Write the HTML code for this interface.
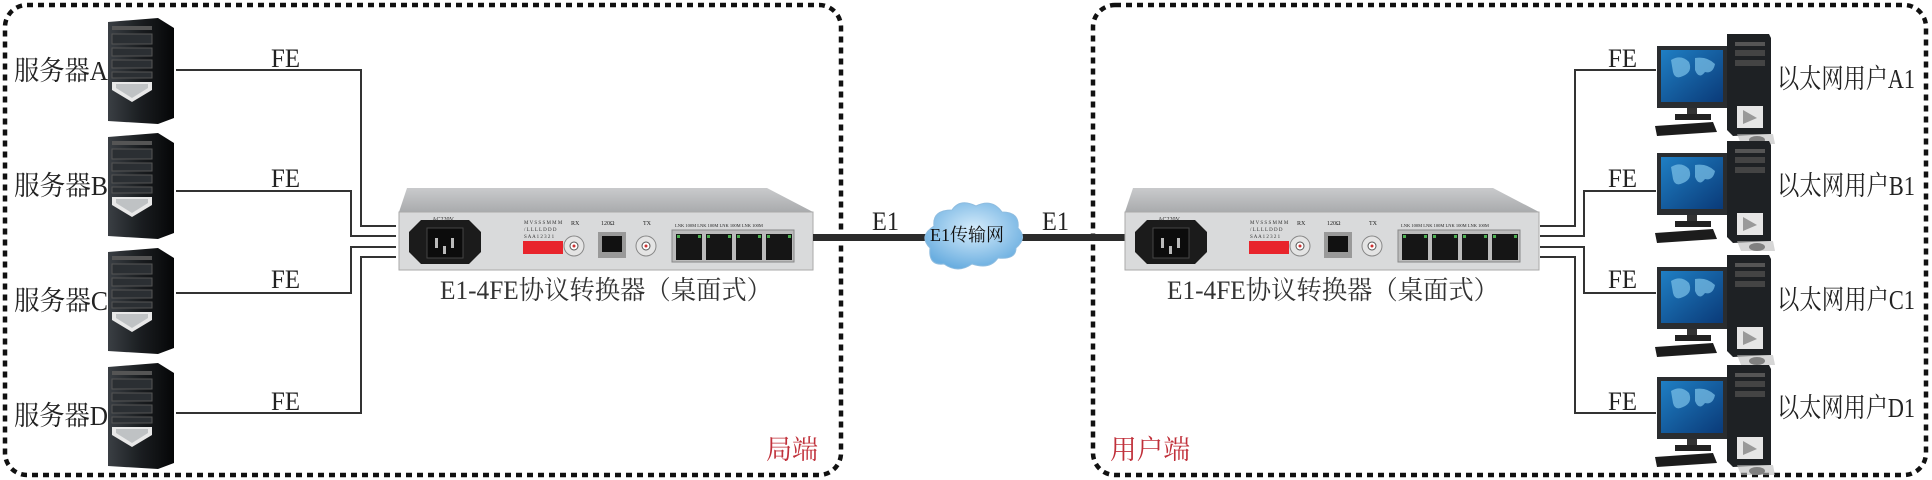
<!DOCTYPE html>
<html><head><meta charset="utf-8"><style>
html,body{margin:0;padding:0;background:#fff;}
svg{display:block;}
text{font-family:"Liberation Serif","Noto Serif CJK SC",serif;}
</style></head><body>
<svg width="1932" height="480" viewBox="0 0 1932 480" xmlns="http://www.w3.org/2000/svg">
<defs>
<linearGradient id="tw" x1="0" x2="1"><stop offset="0" stop-color="#3a3f44"/><stop offset="0.5" stop-color="#1a1d20"/><stop offset="1" stop-color="#050607"/></linearGradient>
<linearGradient id="top" x1="0" y1="0" x2="0" y2="1"><stop offset="0" stop-color="#c9cacc"/><stop offset="1" stop-color="#a9abad"/></linearGradient>
<linearGradient id="scr" x1="0" y1="0" x2="1" y2="1"><stop offset="0" stop-color="#1f7fc4"/><stop offset="1" stop-color="#0a3a78"/></linearGradient>
<radialGradient id="cl" cx="0.5" cy="0.4" r="0.6"><stop offset="0" stop-color="#d6ecfb"/><stop offset="1" stop-color="#6aaee0"/></radialGradient>
<g id="tower">
 <path d="M0 4 L50 0 L66 10 L66 100 L50 106 L0 103 Z" fill="url(#tw)"/>
 <rect x="4" y="8" width="40" height="4" fill="#555"/>
 <rect x="4" y="16" width="40" height="10" fill="#2b2f33" stroke="#555"/>
 <rect x="4" y="30" width="40" height="8" fill="#2b2f33" stroke="#555"/>
 <rect x="4" y="42" width="40" height="8" fill="#2b2f33" stroke="#555"/>
 <rect x="4" y="54" width="40" height="6" fill="#2b2f33" stroke="#555"/>
 <path d="M4 64 L44 64 L44 72 L24 84 L4 72 Z" fill="#e8e8e8"/>
 <path d="M8 66 L40 66 L40 70 L24 80 L8 70 Z" fill="#bfc2c4"/>
</g>
<g id="pc">
 <rect x="0" y="12" width="70" height="62" fill="#2a2d30"/>
 <rect x="4" y="16" width="62" height="52" fill="url(#scr)"/>
 <path d="M14 26 q10 -6 18 2 q4 10 -6 14 q-8 4 -10 -4 Z M38 24 q12 -2 20 6 q-2 10 -10 8 q-6 8 -10 -2 Z" fill="#7ec3ea" opacity="0.7"/>
 <rect x="30" y="74" width="10" height="8" fill="#333"/>
 <rect x="18" y="80" width="36" height="6" fill="#222"/>
 <path d="M-2 92 L56 88 L60 98 L0 102 Z" fill="#1c1c1c"/>
 <path d="M70 0 L112 0 L114 4 L114 100 L76 102 L70 96 Z" fill="#1e2124"/>
 <rect x="78" y="8" width="30" height="4" fill="#555"/>
 <rect x="78" y="16" width="30" height="6" fill="#444"/>
 <rect x="78" y="26" width="30" height="6" fill="#444"/>
 <path d="M80 72 L106 72 L106 94 L80 94 Z" fill="#e6e6e6"/>
 <path d="M86 76 L100 84 L86 90 Z" fill="#999"/>
 <ellipse cx="100" cy="106" rx="8" ry="4" fill="#2a2a2a"/>
 <path d="M80 100 L116 100 L118 110 L84 110 Z" fill="#bbb" opacity="0.6"/>
</g>
<g id="dev">
 <path d="M8 0 L368 0 L414 24 L0 24 Z" fill="url(#top)"/>
 <rect x="0" y="24" width="414" height="58" fill="#d9dadb" stroke="#aaa"/>
 <path d="M10 44 L22 32 L70 32 L82 44 L82 64 L70 76 L22 76 L10 64 Z" fill="#1b1b1b"/>
 <rect x="28" y="40" width="36" height="30" fill="#0c0c0c" stroke="#444"/>
 <rect x="36" y="50" width="3" height="10" fill="#bbb"/><rect x="52" y="50" width="3" height="10" fill="#bbb"/><rect x="44" y="58" width="3" height="8" fill="#bbb"/>
 <text x="44" y="33" font-size="6" font-family="Liberation Sans,sans-serif" text-anchor="middle" fill="#222">AC220V</text>
 <text x="125" y="36" font-size="5" font-family="Liberation Sans,sans-serif" fill="#333">M V S S S M M M</text>
 <text x="125" y="43" font-size="5" font-family="Liberation Sans,sans-serif" fill="#333">/ L L L L D D D</text>
 <text x="125" y="50" font-size="5" font-family="Liberation Sans,sans-serif" fill="#333">S A A 1 2 3 2 1</text>
 <rect x="124" y="53" width="40" height="13" fill="#e8242c"/>
 <text x="172" y="37" font-size="6" font-family="Liberation Sans,sans-serif" fill="#222">RX</text>
 <circle cx="175" cy="58" r="10" fill="#e4e4e4" stroke="#888"/><circle cx="175" cy="58" r="4" fill="#fff" stroke="#555"/><circle cx="175" cy="58" r="1.5" fill="#c33"/>
 <text x="202" y="37" font-size="6" font-family="Liberation Sans,sans-serif" fill="#222">120Ω</text>
 <rect x="199" y="44" width="28" height="26" fill="#999"/><rect x="203" y="48" width="20" height="16" fill="#111"/>
 <text x="244" y="37" font-size="6" font-family="Liberation Sans,sans-serif" fill="#222">TX</text>
 <circle cx="247" cy="58" r="10" fill="#e4e4e4" stroke="#888"/><circle cx="247" cy="58" r="4" fill="#fff" stroke="#555"/><circle cx="247" cy="58" r="1.5" fill="#c33"/>
 <text x="276" y="39" font-size="4.5" font-family="Liberation Sans,sans-serif" fill="#222">LNK 100M LNK  100M  LNK  100M LNK 100M</text>
 <rect x="273" y="42" width="122" height="32" fill="#bbb" stroke="#888"/>
 <g fill="#151515"><rect x="277" y="46" width="26" height="26"/><rect x="307" y="46" width="26" height="26"/><rect x="337" y="46" width="26" height="26"/><rect x="367" y="46" width="26" height="26"/></g>
 <g fill="#4caf50"><rect x="278" y="47" width="3" height="3"/><rect x="299" y="47" width="3" height="3"/><rect x="308" y="47" width="3" height="3"/><rect x="329" y="47" width="3" height="3"/><rect x="338" y="47" width="3" height="3"/><rect x="359" y="47" width="3" height="3"/><rect x="368" y="47" width="3" height="3"/><rect x="389" y="47" width="3" height="3"/></g>
</g>
</defs>

<rect x="5" y="5" width="836" height="470" rx="22" fill="none" stroke="#111" stroke-width="4.5" stroke-dasharray="6,5"/>
<rect x="1093" y="5" width="833" height="470" rx="22" fill="none" stroke="#111" stroke-width="4.5" stroke-dasharray="6,5"/>

<use href="#tower" x="108" y="18"/>
<use href="#tower" x="108" y="133"/>
<use href="#tower" x="108" y="248"/>
<use href="#tower" x="108" y="363"/>
<g font-size="27" fill="#222">
<text x="14" y="80" textLength="94" lengthAdjust="spacingAndGlyphs">服务器A</text>
<text x="14" y="195" textLength="94" lengthAdjust="spacingAndGlyphs">服务器B</text>
<text x="14" y="310" textLength="94" lengthAdjust="spacingAndGlyphs">服务器C</text>
<text x="14" y="425" textLength="94" lengthAdjust="spacingAndGlyphs">服务器D</text>
</g>
<g fill="none" stroke="#333" stroke-width="2">
<polyline points="176,70 361,70 361,226 396,226"/>
<polyline points="176,191 351,191 351,236 396,236"/>
<polyline points="176,293 351,293 351,247 396,247"/>
<polyline points="176,413 361,413 361,257 396,257"/>
</g>
<g font-size="26" fill="#222">
<text x="271" y="67" textLength="29" lengthAdjust="spacingAndGlyphs">FE</text><text x="271" y="187" textLength="29" lengthAdjust="spacingAndGlyphs">FE</text><text x="271" y="288" textLength="29" lengthAdjust="spacingAndGlyphs">FE</text><text x="271" y="410" textLength="29" lengthAdjust="spacingAndGlyphs">FE</text>
</g>

<use href="#dev" x="399" y="188"/>
<text x="440" y="299" font-size="26" fill="#333" textLength="332" lengthAdjust="spacingAndGlyphs">E1-4FE协议转换器（桌面式）</text>

<rect x="813" y="234" width="115" height="7" fill="#2b2b2b"/>
<rect x="1018" y="234" width="108" height="7" fill="#2b2b2b"/>
<text x="872" y="230" font-size="26" fill="#222" textLength="27" lengthAdjust="spacingAndGlyphs">E1</text>
<text x="1042" y="230" font-size="26" fill="#222" textLength="27" lengthAdjust="spacingAndGlyphs">E1</text>
<path d="M930 248 q-12 -12 4 -22 q-2 -16 18 -16 q8 -12 24 -4 q16 -8 26 6 q18 0 16 16 q10 10 -2 20 q0 12 -18 10 q-8 12 -26 6 q-14 10 -28 0 q-16 2 -14 -16 Z" fill="url(#cl)" stroke="#8fbde0"/>
<text x="930" y="241" font-size="18" font-family="Liberation Sans,'Noto Sans CJK SC',sans-serif" fill="#111">E1传输网</text>

<use href="#dev" x="1125" y="188"/>
<text x="1167" y="299" font-size="26" fill="#333" textLength="332" lengthAdjust="spacingAndGlyphs">E1-4FE协议转换器（桌面式）</text>

<g fill="none" stroke="#333" stroke-width="2">
<polyline points="1540,226 1575,226 1575,70 1656,70"/>
<polyline points="1540,236 1584,236 1584,191 1656,191"/>
<polyline points="1540,247 1584,247 1584,293 1656,293"/>
<polyline points="1540,257 1575,257 1575,413 1656,413"/>
</g>
<g font-size="26" fill="#222">
<text x="1608" y="67" textLength="29" lengthAdjust="spacingAndGlyphs">FE</text><text x="1608" y="187" textLength="29" lengthAdjust="spacingAndGlyphs">FE</text><text x="1608" y="288" textLength="29" lengthAdjust="spacingAndGlyphs">FE</text><text x="1608" y="410" textLength="29" lengthAdjust="spacingAndGlyphs">FE</text>
</g>
<use href="#pc" x="1657" y="34"/>
<use href="#pc" x="1657" y="141"/>
<use href="#pc" x="1657" y="255"/>
<use href="#pc" x="1657" y="365"/>
<g font-size="27" fill="#222">
<text x="1777" y="88" textLength="138" lengthAdjust="spacingAndGlyphs">以太网用户A1</text>
<text x="1777" y="195" textLength="138" lengthAdjust="spacingAndGlyphs">以太网用户B1</text>
<text x="1777" y="309" textLength="138" lengthAdjust="spacingAndGlyphs">以太网用户C1</text>
<text x="1777" y="417" textLength="138" lengthAdjust="spacingAndGlyphs">以太网用户D1</text>
</g>

<text x="766" y="459" font-size="27" fill="#c0303a" textLength="52" lengthAdjust="spacingAndGlyphs">局端</text>
<text x="1110" y="459" font-size="27" fill="#c0303a" textLength="80" lengthAdjust="spacingAndGlyphs">用户端</text>
</svg>
</body></html>
